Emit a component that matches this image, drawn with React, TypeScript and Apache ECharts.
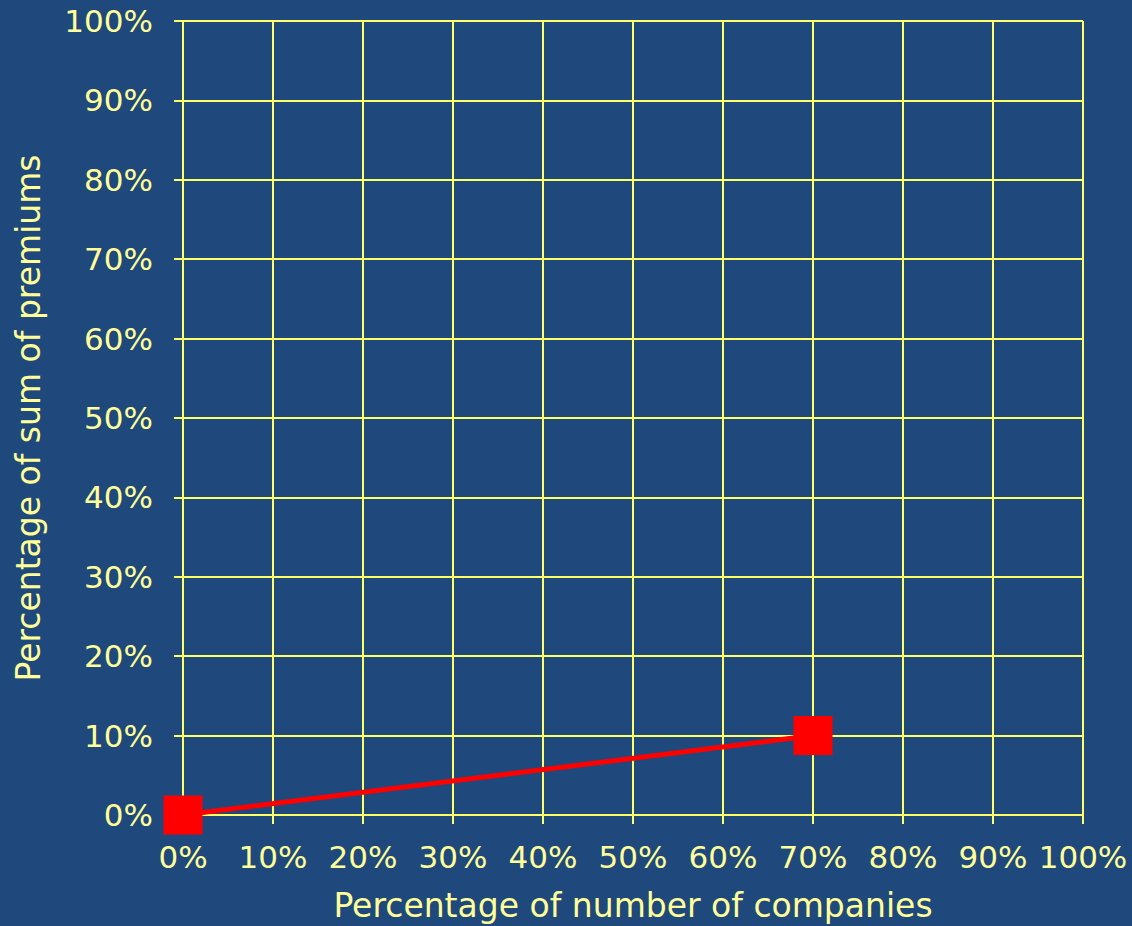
import React, { useEffect, useRef } from "react";
import * as echarts from "echarts";

// Cumulative share of companies (x) vs cumulative share of premiums (y), in percent
const companiesPct = [0, 70];
const premiumsPct = [0, 10];
const axisTicks = [0, 10, 20, 30, 40, 50, 60, 70, 80, 90, 100];

const BG = "#1F497C";
const GRID = "#FFFF66";
const TEXT = "#FFFF99";
const FONT = "DejaVu Sans";

export default function App() {
  const ref = useRef<HTMLDivElement>(null);

  useEffect(() => {
    if (!ref.current) return;
    const chart = echarts.init(ref.current, undefined, { renderer: "svg" });
    const points = companiesPct.map((x, i) => [x, premiumsPct[i]]);
    const axisCommon = {
      type: "value" as const,
      min: axisTicks[0],
      max: axisTicks[axisTicks.length - 1],
      interval: 10,
      axisLine: { show: true, lineStyle: { color: GRID, width: 2 } },
      axisTick: { show: true, length: 9, lineStyle: { color: GRID, width: 2 } },
      splitLine: { show: true, lineStyle: { color: GRID, width: 2 } },
      nameLocation: "middle" as const,
      nameTextStyle: { color: TEXT, fontSize: 33, fontFamily: FONT },
    };
    chart.setOption({
      animation: false,
      backgroundColor: BG,
      grid: {
        left: 183,
        right: 49,
        top: 21,
        bottom: 111,
        containLabel: false,
        outerBoundsMode: "none",
      },
      xAxis: {
        ...axisCommon,
        name: "Percentage of number of companies",
        nameGap: 74,
        axisLabel: {
          color: TEXT,
          fontSize: 31,
          fontFamily: FONT,
          margin: 26,
          formatter: (v: number) => `${v}%`,
        },
      },
      yAxis: {
        ...axisCommon,
        name: "Percentage of sum of premiums",
        nameGap: 138,
        axisLabel: {
          color: TEXT,
          fontSize: 31,
          fontFamily: FONT,
          margin: 30,
          formatter: (v: number) => `${v}%`,
        },
      },
      series: [
        {
          type: "line",
          data: points,
          symbol: "rect",
          symbolSize: 39,
          itemStyle: { color: "#FF0000" },
          lineStyle: { color: "#FF0000", width: 5 },
        },
      ],
    });
    return () => chart.dispose();
  }, []);

  return (
    <div
      ref={ref}
      style={{ position: "fixed", left: 0, top: 0, width: 1132, height: 926 }}
    />
  );
}
